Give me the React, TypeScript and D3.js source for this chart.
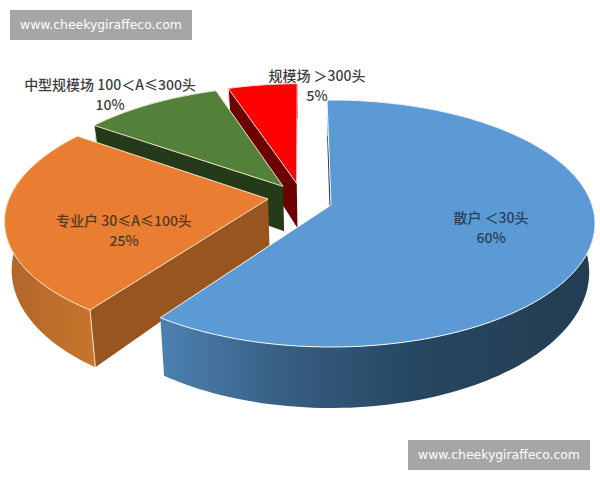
import React from "react";
import * as d3 from "d3";

const categories = ["散户 ＜30头", "专业户 30≤A≤100头", "中型规模场 100＜A≤300头", "规模场 ＞300头"];
const shares = [60, 25, 10, 5];
const percentLabels = ["60%", "25%", "10%", "5%"];
const topColors = ["#5b9ad4", "#e97e32", "#54813a", "#ff0000"];
const cutColors = ["#1c3348", "#98551f", "#243a18", "#6c0000"];
const edgeColors = ["#f2f8fc", "#fbe6cc", "#e8e6c8", "#fbe0d8"];
const explodeX = [0, -0.243, -0.188, -0.135];
const explodeY = [0, -0.05, -0.158, -0.184];
const labelX = [491, 124, 110, 317];
const labelY = [223, 226, 90, 81];
const labelColors = ["#27405a", "#54381f", "#404040", "#404040"];
const watermark = "www.cheekygiraffeco.com";
const watermarkBoxes = [[10, 10], [408, 440]];

const W = 600, H = 480;
const originX = 331, originY = 205;
const scaleX = 261, scaleY = 120.7, persp = 0.15;
const rotation = (-1.0 * Math.PI) / 180;

const project = (px: number, py: number, z: number): [number, number] => {
  const den = 1 - persp * py;
  const x = (scaleX * px) / den;
  const y = (scaleY * py) / den;
  if (!z) return [originX + x, originY + y];
  const sy = originY + y;
  return [originX + x * 0.978, sy + 46 + 0.1 * (sy - 197)];
};

const pie = d3.pie<number>().sort(null).startAngle(rotation).endAngle(rotation + 2 * Math.PI);
const arcs = pie(shares);
const line = d3.line<[number, number]>();

const rim = (i: number, z: number): [number, number][] => {
  const a = arcs[i];
  const n = Math.max(8, Math.round((a.endAngle - a.startAngle) * 40));
  return d3.range(n + 1).map((k) => {
    const t = a.startAngle + ((a.endAngle - a.startAngle) * k) / n;
    return project(Math.sin(t) + explodeX[i], -Math.cos(t) + explodeY[i], z);
  });
};
const apex = (i: number, z: number) => project(explodeX[i], explodeY[i], z);

const closed = (pts: [number, number][]) => line(pts) + "Z";

export default function App() {
  const order = [3, 2, 1, 0];
  return (
    <svg
      width={W}
      height={H}
      viewBox={`0 0 ${W} ${H}`}
      style={{ position: "absolute", left: 0, top: 0, background: "#fff" }}
    >
      <defs>
        <linearGradient id="wall0" gradientUnits="userSpaceOnUse" x1={165} x2={590} y1={0} y2={0}>
          <stop offset="0" stopColor="#4c80b0" />
          <stop offset="0.3" stopColor="#365c80" />
          <stop offset="0.6" stopColor="#264660" />
          <stop offset="1" stopColor="#223d52" />
        </linearGradient>
        <linearGradient id="wall1" gradientUnits="userSpaceOnUse" x1={5} x2={94} y1={0} y2={0}>
          <stop offset="0" stopColor="#b0652a" />
          <stop offset="1" stopColor="#c8752c" />
        </linearGradient>
        <linearGradient id="wall2" x1="0" x2="1" y1="0" y2="0">
          <stop offset="0" stopColor={cutColors[2]} />
          <stop offset="1" stopColor={cutColors[2]} />
        </linearGradient>
        <linearGradient id="wall3" x1="0" x2="1" y1="0" y2="0">
          <stop offset="0" stopColor={cutColors[3]} />
          <stop offset="1" stopColor={cutColors[3]} />
        </linearGradient>
      </defs>
      {order.map((i) => {
        const top = rim(i, 0);
        const bottom = rim(i, 1);
        const topShape = closed([apex(i, 0), ...top]);
        const wall = closed([...top, ...bottom.slice().reverse()]);
        const cut = closed([top[0], apex(i, 0), apex(i, 1), bottom[0]]);
        return (
          <g key={categories[i]}>
            <path d={wall} fill={`url(#wall${i})`} />
            <path d={cut} fill={cutColors[i]} />
            <path d={line([top[0], bottom[0]]) as string} stroke={edgeColors[i]} strokeWidth={1} fill="none" />
            <path d={topShape} fill={topColors[i]} stroke={edgeColors[i]} strokeWidth={1} strokeLinejoin="round" />
          </g>
        );
      })}
      {categories.map((c, i) => (
        <g
          key={c}
          fontFamily="'Noto Sans CJK SC', 'Noto Sans', sans-serif"
          fontSize={14}
          fontWeight={500}
          fill={labelColors[i]}
          textAnchor="middle"
        >
          <text x={labelX[i]} y={labelY[i]}>{c}</text>
          <text x={labelX[i]} y={labelY[i] + 20}>{percentLabels[i]}</text>
        </g>
      ))}
      {watermarkBoxes.map(([x, y]) => (
        <g key={x}>
          <rect x={x} y={y} width={182} height={30} fill="#a6a6a6" />
          <text
            x={x + 91}
            y={y + 19}
            textAnchor="middle"
            fontFamily="'DejaVu Sans', sans-serif"
            fontSize={12.4}
            fill="#fff"
          >
            {watermark}
          </text>
        </g>
      ))}
    </svg>
  );
}
